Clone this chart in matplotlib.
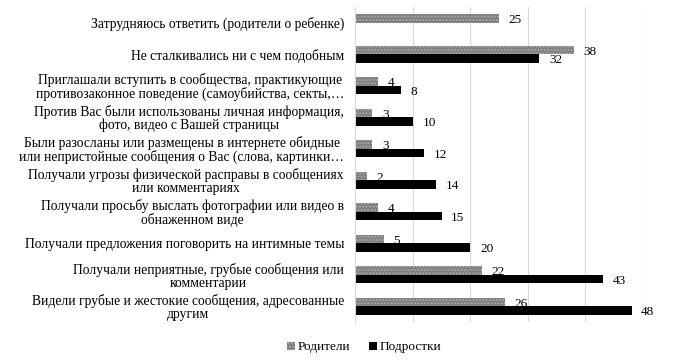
import matplotlib.pyplot as plt
import numpy as np
from matplotlib.patches import Patch

plt.rcParams['font.family'] = ['Liberation Serif', 'DejaVu Serif']
plt.rcParams['hatch.linewidth'] = 0.8

categories = [
    "Затрудняюсь ответить (родители о ребенке)",
    "Не сталкивались ни с чем подобным",
    "Приглашали вступить в сообщества, практикующие\nпротивозаконное поведение (самоубийства, секты,…",
    "Против Вас были использованы личная информация,\nфото, видео с Вашей страницы",
    "Были разосланы или размещены в интернете обидные\nили непристойные сообщения о Вас (слова, картинки…",
    "Получали угрозы физической расправы в сообщениях\nили комментариях",
    "Получали просьбу выслать фотографии или видео в\nобнаженном виде",
    "Получали предложения поговорить на интимные темы",
    "Получали неприятные, грубые сообщения или\nкомментарии",
    "Видели грубые и жестокие сообщения, адресованные\nдругим",
]
parents = [25, 38, 4, 3, 3, 2, 4, 5, 22, 26]
teens = [None, 32, 8, 10, 12, 14, 15, 20, 43, 48]

fig = plt.figure(figsize=(6.87, 3.6), dpi=100)
ax = fig.add_axes([0.517, 0.106, 0.419, 0.875])

y = np.arange(len(categories))
h = 0.27
grey = '#808080'

pb = ax.barh(y - h / 2, parents, height=h, color=grey, edgecolor='#b0b0b0',
             hatch='.....', linewidth=0)
t_vals = [v if v is not None else 0 for v in teens]
tb = ax.barh(y + h / 2, t_vals, height=h, color='black', linewidth=0)

for yi, v in zip(y, parents):
    ax.annotate(str(v), (v, yi - h / 2), xytext=(7, -1.5), textcoords='offset points',
                ha='left', va='center', fontsize=9.5)
for yi, v in zip(y, teens):
    if v is None:
        continue
    ax.annotate(str(v), (v, yi + h / 2), xytext=(7, -1.5), textcoords='offset points',
                ha='left', va='center', fontsize=9.5)

ax.set_xlim(0, 50)
ax.set_ylim(len(categories) - 0.5, -0.5)
ax.set_xticks(np.arange(0, 51, 10))
ax.set_xticklabels([])
ax.set_yticks(y)
ax.set_yticklabels(categories, fontsize=9.8, multialignment='center', linespacing=1.0)
ax.tick_params(axis='both', length=0)
ax.tick_params(axis='y', pad=8)
ax.grid(axis='x', color='#d9d9d9', linewidth=0.8)
ax.set_axisbelow(True)
for s in ['top', 'right', 'bottom']:
    ax.spines[s].set_visible(False)
ax.spines['left'].set_color('#d9d9d9')

handles = [Patch(facecolor=grey, edgecolor='#b0b0b0', hatch='.....', linewidth=0),
           Patch(facecolor='black', linewidth=0)]
fig.legend(handles, ['Родители', 'Подростки'], loc='center', bbox_to_anchor=(0.53, 0.035),
           ncol=2, frameon=False, fontsize=9.5, handlelength=0.6, handleheight=0.6,
           handletextpad=0.2, columnspacing=1.5)

fig.savefig('out.png', dpi=100)
